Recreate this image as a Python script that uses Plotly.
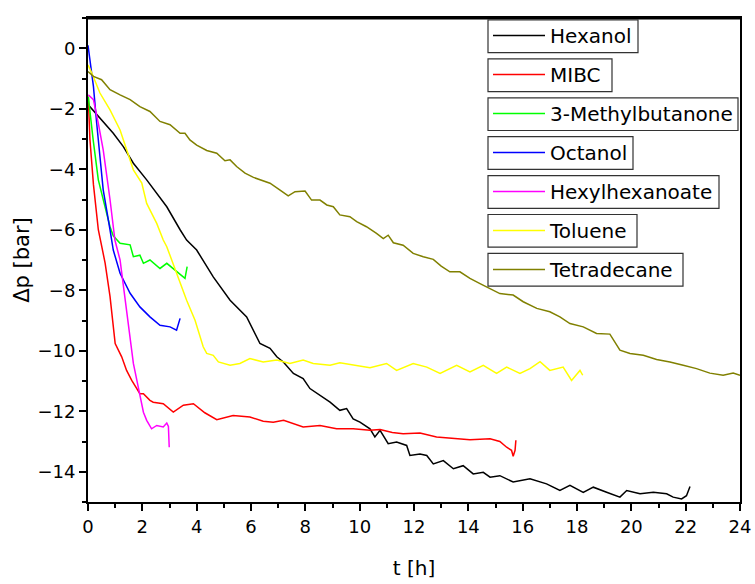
import plotly.graph_objects as go

# ---------------- data ----------------
names = ["Hexanol", "MIBC", "3-Methylbutanone", "Octanol",
         "Hexylhexanoate", "Toluene", "Tetradecane"]
colors = ["#000000", "#FF0000", "#00FF00", "#0000FF",
          "#FF00FF", "#FFFF00", "#808000"]

hexanol_t = [0.01, 0.44, 0.93, 1.30, 1.67, 2.16, 2.53, 2.90, 3.39, 3.63, 4.00, 4.61,
             5.23, 5.84, 6.33, 6.70, 6.95, 7.19, 7.56, 7.92, 8.17, 8.54, 8.91, 9.27,
             9.52, 9.76, 10.01, 10.38, 10.56, 10.75, 11.05, 11.36, 11.73, 11.85, 12.22,
             12.47, 12.71, 13.08, 13.45, 13.81, 14.18, 14.55, 14.80, 15.16, 15.65, 16.27,
             16.88, 17.37, 17.74, 18.23, 18.60, 19.09, 19.58, 19.83, 20.32, 20.81, 21.30,
             21.54, 21.85, 22.03, 22.16]
hexanol_p = [-1.87, -2.31, -2.81, -3.25, -3.80, -4.35, -4.80, -5.24, -6.00, -6.34, -6.67, -7.56,
             -8.33, -8.88, -9.76, -9.92, -10.20, -10.37, -10.75, -10.92, -11.25, -11.47, -11.70, -11.97,
             -11.91, -12.25, -12.36, -12.58, -12.85, -12.63, -13.07, -13.02, -13.13, -13.46, -13.41,
             -13.46, -13.74, -13.63, -13.90, -13.80, -14.07, -14.02, -14.18, -14.13, -14.34, -14.23,
             -14.40, -14.62, -14.45, -14.68, -14.51, -14.68, -14.84, -14.62, -14.73, -14.68, -14.73,
             -14.84, -14.90, -14.79, -14.49]

mibc_t = [0.01, 0.07, 0.20, 0.38, 0.63, 0.81, 1.00, 1.24, 1.42, 1.61, 1.91, 2.04, 2.28,
          2.40, 2.77, 3.14, 3.51, 3.88, 4.30, 4.74, 5.34, 5.96, 6.45, 6.82, 7.20,
          7.92, 8.54, 9.15, 9.76, 10.38, 10.75, 11.20, 11.60, 12.22, 12.83, 13.57,
          14.06, 14.80, 15.16, 15.41, 15.59, 15.65, 15.72, 15.75]
mibc_p = [-1.60, -3.00, -4.50, -6.00, -7.10, -8.20, -9.76, -10.20, -10.65, -10.98, -11.42, -11.42, -11.64,
          -11.70, -11.75, -12.03, -11.80, -11.75, -12.05, -12.28, -12.14, -12.19, -12.33, -12.36, -12.30,
          -12.52, -12.47, -12.58, -12.58, -12.63, -12.60, -12.70, -12.74, -12.72, -12.85, -12.91,
          -12.94, -12.91, -13.00, -13.19, -13.29, -13.49, -13.29, -12.96]

mbut_t = [0.01, 0.07, 0.19, 0.38, 0.56, 0.81, 0.93, 1.18, 1.55, 1.67, 1.91, 2.04,
          2.28, 2.65, 2.90, 3.26, 3.57, 3.65]
mbut_p = [-1.60, -2.15, -3.03, -4.35, -5.00, -5.90, -6.20, -6.45, -6.50, -6.89, -6.84, -7.11,
          -7.00, -7.28, -7.11, -7.39, -7.61, -7.22]

octanol_t = [0.0, 0.07, 0.20, 0.32, 0.44, 0.56, 0.81, 0.93, 1.18, 1.55, 1.91, 2.28,
             2.65, 3.02, 3.26, 3.39]
octanol_p = [0.10, -0.38, -1.26, -2.48, -3.58, -4.68, -6.00, -6.67, -7.44, -8.10, -8.55, -8.88,
             -9.16, -9.21, -9.32, -8.93]

hexhex_t = [0.01, 0.20, 0.38, 0.56, 0.81, 0.99, 1.18, 1.42, 1.67, 1.85, 2.04, 2.16,
            2.34, 2.53, 2.77, 2.90, 2.96, 2.99]
hexhex_p = [-1.54, -1.70, -2.48, -3.36, -5.00, -6.34, -7.00, -8.77, -10.42, -11.20, -12.03, -12.30,
            -12.58, -12.47, -12.52, -12.39, -12.50, -13.19]

toluene_t = [0.0, 0.14, 0.44, 0.81, 1.18, 1.42, 1.67, 1.98, 2.16, 2.53, 2.77, 2.90, 3.26,
             3.63, 3.94, 4.24, 4.37, 4.61, 4.80, 5.23, 5.59, 5.96, 6.45, 6.95, 7.43, 7.92,
             8.29, 8.91, 9.27, 9.76, 10.38, 10.99, 11.36, 11.97, 12.47, 12.96, 13.57, 14.06,
             14.55, 15.04, 15.41, 15.90, 16.27, 16.64, 17.00, 17.49, 17.80, 18.11, 18.21]
toluene_p = [-0.55, -0.82, -1.48, -2.04, -2.70, -3.36, -4.02, -4.46, -5.13, -5.79, -6.34, -6.56, -7.44,
             -8.33, -8.99, -9.87, -10.09, -10.15, -10.37, -10.48, -10.42, -10.26, -10.37, -10.31, -10.42, -10.31,
             -10.42, -10.48, -10.40, -10.48, -10.56, -10.42, -10.65, -10.42, -10.54, -10.75, -10.48, -10.70,
             -10.48, -10.75, -10.54, -10.75, -10.59, -10.36, -10.65, -10.54, -10.98, -10.65, -10.81]

tetra_t = [0.0, 0.20, 0.50, 0.81, 1.18, 1.55, 1.91, 2.28, 2.65, 3.02, 3.39, 3.57, 3.75,
           4.00, 4.37, 4.74, 5.04, 5.23, 5.47, 5.78, 6.09, 6.45, 6.70, 7.07, 7.37, 7.62,
           7.99, 8.23, 8.54, 8.79, 9.03, 9.27, 9.64, 9.89, 10.25, 10.62, 10.87, 11.05,
           11.24, 11.60, 11.97, 12.34, 12.71, 13.00, 13.32, 13.69, 14.06, 14.43, 14.80,
           15.16, 15.65, 16.02, 16.52, 17.00, 17.37, 17.74, 18.23, 18.72, 19.21, 19.58,
           19.95, 20.44, 20.93, 21.42, 21.91, 22.40, 22.89, 23.38, 23.75, 24.00]
tetra_p = [-0.77, -0.93, -1.04, -1.37, -1.54, -1.70, -1.93, -2.09, -2.42, -2.53, -2.81, -2.81, -3.03,
           -3.20, -3.38, -3.47, -3.72, -3.69, -3.91, -4.13, -4.27, -4.38, -4.46, -4.69, -4.88, -4.74,
           -4.72, -5.02, -5.02, -5.18, -5.24, -5.51, -5.57, -5.73, -5.90, -6.12, -6.29, -6.18,
           -6.43, -6.51, -6.78, -6.89, -6.98, -7.20, -7.39, -7.39, -7.61, -7.78, -7.94,
           -8.11, -8.16, -8.38, -8.60, -8.71, -8.88, -9.10, -9.21, -9.43, -9.45, -9.98,
           -10.09, -10.15, -10.29, -10.37, -10.48, -10.59, -10.74, -10.81, -10.74, -10.81]

series_t = [hexanol_t, mibc_t, mbut_t, octanol_t, hexhex_t, toluene_t, tetra_t]
series_p = [hexanol_p, mibc_p, mbut_p, octanol_p, hexhex_p, toluene_p, tetra_p]

x_ticks = list(range(0, 25, 2))
y_ticks = list(range(-14, 1, 2))

# ---------------- figure ----------------
W, H = 755, 584
ML, MR, MT, MB = 88, 15, 18, 82
PW, PH = W - ML - MR, H - MT - MB
FONT = "DejaVu Sans, Arial, sans-serif"

fig = go.Figure()
for i, (n, c) in enumerate(zip(names, colors)):
    fig.add_trace(go.Scatter(
        x=series_t[i], y=series_p[i], mode="lines", name=n,
        legendgroup=n,
        line=dict(color=c, width=1.5),
    ))


def px2x(px):
    return (px - ML) / PW


def px2y(py):
    return (H - MB - py) / PH


# legend boxes (Origin-style: each entry framed)
box_left = 488
box_top0 = 20
box_h = 32.7
box_step = 38.9
box_right = [638, 612, 738, 633, 719, 637, 683]
for i in range(len(names)):
    top = box_top0 + i * box_step
    fig.add_shape(type="rect", xref="paper", yref="paper",
                  x0=px2x(box_left), x1=px2x(box_right[i]),
                  y0=px2y(top + box_h), y1=px2y(top),
                  line=dict(color="#333333", width=1.2), fillcolor="rgba(0,0,0,0)",
                  layer="above")

# heavier top frame line, as in the reference
fig.add_shape(type="line", xref="paper", yref="paper", x0=0, x1=1, y0=1, y1=1,
              line=dict(color="black", width=3), layer="above")

fig.update_layout(
    width=W, height=H,
    margin=dict(l=ML, r=MR, t=MT, b=MB, pad=0, autoexpand=False),
    paper_bgcolor="white", plot_bgcolor="white",
    font=dict(family=FONT, color="black", size=18),
    showlegend=True,
    legend=dict(x=px2x(box_left), y=px2y(box_top0 - 4), xanchor="left", yanchor="top",
                bgcolor="rgba(0,0,0,0)", borderwidth=0,
                font=dict(family=FONT, size=20, color="black"),
                tracegroupgap=10, itemwidth=52, itemclick=False),
    xaxis=dict(range=[0, 24], tickvals=x_ticks, showgrid=False, zeroline=False,
               showline=True, linecolor="black", linewidth=2, mirror=True,
               automargin=False,
               ticks="outside", ticklen=7, tickwidth=2, tickcolor="black",
               minor=dict(dtick=1, ticks="outside", ticklen=4, tickwidth=2, tickcolor="black",
                          showgrid=False),
               tickfont=dict(size=18, family=FONT),
               title=dict(text="t [h]", font=dict(size=20, family=FONT), standoff=25)),
    yaxis=dict(range=[-15, 1], tickvals=y_ticks, showgrid=False, zeroline=False,
               showline=True, linecolor="black", linewidth=2, mirror=True,
               automargin=False,
               ticks="outside", ticklen=7, tickwidth=2, tickcolor="black",
               minor=dict(dtick=1, tick0=-15, ticks="outside", ticklen=4, tickwidth=2,
                          tickcolor="black", showgrid=False),
               tickfont=dict(size=18, family=FONT),
               title=dict(text="Δp [bar]", font=dict(size=21, family=FONT), standoff=2)),
)

fig.write_html("out.html")
